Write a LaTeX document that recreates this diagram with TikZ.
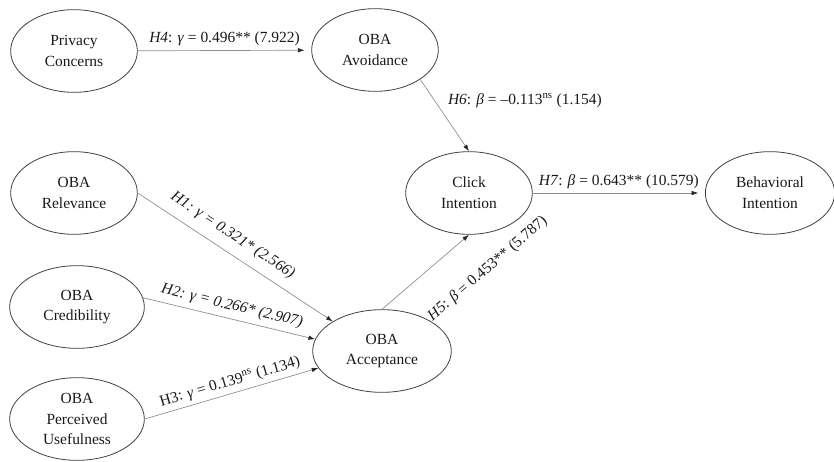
\documentclass[tikz,border=0pt]{standalone}
\usepackage{fontspec}
\setmainfont{Liberation Serif}
\usetikzlibrary{shapes.geometric,arrows.meta}
\begin{document}
\begin{tikzpicture}[x=0.75pt,y=-0.75pt,
        construct/.style={ellipse,draw=black!75,line width=0.6pt,inner sep=0pt,
            minimum width=#1,minimum height=62pt,align=center,text=black!90,
            font=\fontsize{11.6}{15.5}\selectfont},
        construct/.default=95pt,
        effect/.style={draw=black!45,line width=0.5pt,
            -{Latex[length=5pt,width=3.4pt,color=black!85]}},
        coef/.style={text=black!90,inner sep=2pt,font=\fontsize{11.6}{14}\selectfont}]
     \useasboundingbox (0,0) rectangle (834,461);
     \node[construct] (privacy) at (74,51){Privacy\\Concerns};
     \node[construct] (avoid) at (375,50){OBA\\Avoidance};
     \node[construct] (click) at (469,193){Click\\Intention};
     \node[construct=97pt] (behav) at (770,193){Behavioral\\Intention};
     \node[construct] (relev) at (74,193){OBA\\Relevance};
     \node[construct=101pt] (cred) at (77,307){OBA\\Credibility};
     \node[construct=101pt,inner ysep=-8pt] (useful) at (77,419){OBA\\Perceived\\Usefulness};
     \node[construct=104pt] (accept) at (382,351){OBA\\Acceptance};
         \draw[effect,shorten >=5pt] (privacy) -- (avoid)
             node[coef,midway,above=1pt]{\textit{H4}: \textit{γ} = 0.496** (7.922)};
         \draw[effect] (avoid.-33) -- (click.north)
             node[coef,pos=0.29,right=8pt]{\textit{H6}: \textit{β} = –0.113\textsuperscript{ns} (1.154)};
         \draw[effect,shorten >=5pt] (click) -- (behav)
             node[coef,midway,above=1pt]{\textit{H7}: \textit{β} = 0.643** (10.579)};
         \draw[effect] (relev.east) -- (accept.149)
             node[coef,sloped,pos=0.44,above=5pt]{\textit{H1: γ = 0.321* (2.566)}};
         \draw[effect] (cred.8) -- (accept.170)
             node[coef,sloped,pos=0.5,above=2pt]{\textit{H2: γ = 0.266* (2.907)}};
         \draw[effect] (useful.east) -- (accept.195)
             node[coef,sloped,pos=0.51,above=1pt]{H3: \textit{γ} = 0.139\textsuperscript{ns} (1.134)};
         \draw[effect] (accept.north) -- (click.south)
             node[coef,sloped,pos=0.93,below=21pt]{\textit{H5}: \textit{β} = 0.453** (5.787)};
\end{tikzpicture}
\end{document}
